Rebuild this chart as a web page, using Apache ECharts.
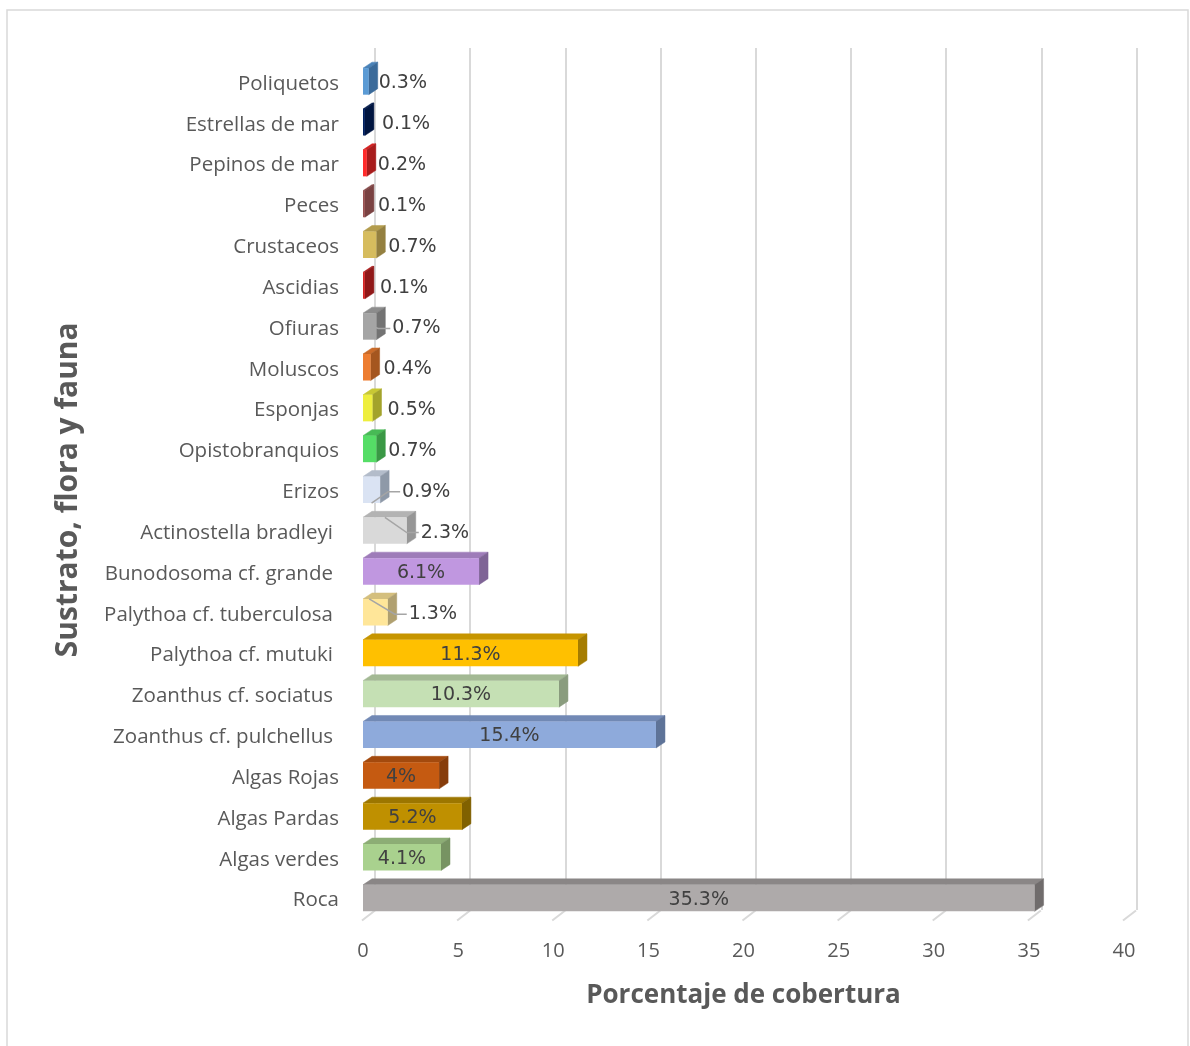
<!DOCTYPE html>
<html><head><meta charset="utf-8">
<script src="https://cdn.jsdelivr.net/npm/echarts@6/dist/echarts.min.js"></script>
<style>html,body{margin:0;padding:0;background:#fff}#c{width:1190px;height:1046px}</style>
</head><body><div id="c"></div>
<script>
// ---- data ----
const categories = ['Poliquetos','Estrellas de mar','Pepinos de mar','Peces','Crustaceos','Ascidias','Ofiuras','Moluscos','Esponjas','Opistobranquios','Erizos','Actinostella bradleyi','Bunodosoma cf. grande','Palythoa cf. tuberculosa','Palythoa cf. mutuki','Zoanthus cf. sociatus','Zoanthus cf. pulchellus','Algas Rojas','Algas Pardas','Algas verdes','Roca'];
const values = [0.3,0.1,0.2,0.1,0.7,0.1,0.7,0.4,0.5,0.7,0.9,2.3,6.1,1.3,11.3,10.3,15.4,4,5.2,4.1,35.3];
const xTicks = [0,5,10,15,20,25,30,35,40];
const xTitle = 'Porcentaje de cobertura';
const yTitle = 'Sustrato, flora y fauna';

// ---- styles ----
const frontColors = ['#5B9BD5','#002060','#FF2B2B','#9A5252','#D6BC5E','#D42525','#A5A5A5','#ED7D31','#EEEE3E','#55DD66','#DAE3F3','#D9D9D9','#C097E0','#FFE699','#FFC000','#C5E0B4','#8EAADB','#C55A11','#BF9000','#A9D18E','#AEAAAA'];
const topColors   = ['#4A82B8','#001A4D','#D42222','#844646','#B39C4D','#B01E1E','#8C8C8C','#C96A29','#C8C834','#47BA55','#B3BCCA','#B3B3B3','#9E7CB9','#D4BF7E','#C69500','#A3B994','#7289B5','#A34A0E','#9C7600','#8CAD75','#8A8686'];
const sideColors  = ['#3A6A9A','#001540','#A81C1C','#7A4242','#948040','#901818','#737373','#A5561F','#A3A32B','#3A9845','#8E99A8','#969696','#7F6496','#B0A070','#A57C00','#8A9C7E','#5E7398','#873D0B','#806100','#779362','#706C6C'];
const depthX = 9, depthY = -6;
const longLabelShift = {'Actinostella bradleyi':1,'Bunodosoma cf. grande':1,'Palythoa cf. tuberculosa':1,'Palythoa cf. mutuki':1,'Zoanthus cf. sociatus':1,'Zoanthus cf. pulchellus':1};
// per-category outside label gap and leader lines (style)
const labelGap = {'Estrellas de mar':8,'Ascidias':6,'Ofiuras':7,'Moluscos':4,'Esponjas':6,'Erizos':13,'Palythoa cf. tuberculosa':12,'Actinostella bradleyi':5,'Peces':4,'Pepinos de mar':2,'Crustaceos':3,'Opistobranquios':3,'Poliquetos':1};
const leaders = {
  'Ofiuras': {ax:0.7, ay:0.0},
  'Erizos': {ax:0.5, ay:0.5},
  'Actinostella bradleyi': {ax:0.5, ay:-0.5},
  'Palythoa cf. tuberculosa': {ax:0.25, ay:-0.5}
};
const textColor = '#404040';
const axisColor = '#595959';
const gridColor = '#D9D9D9';
const labelFont = 'DejaVu Sans';

const barData = values.map((v, i) => [v, i]);

const chart = echarts.init(document.getElementById('c'), null, {renderer:'canvas'});
const option = {
  backgroundColor:'#fff',
  animation:false,
  graphic:[{type:'rect', shape:{x:7, y:10, width:1181, height:1100}, style:{fill:'none', stroke:gridColor, lineWidth:1.5}, z:-10}],
  grid:[
    {left:363, right:66, top:61, bottom:127.5},
    {left:375, right:53.5, top:48, bottom:136}
  ],
  xAxis:[
    {gridIndex:0, type:'value', min:0, max:40, interval:5,
     axisLine:{show:false}, axisTick:{show:false}, splitLine:{show:false},
     axisLabel:{color:axisColor, fontSize:20, fontFamily:'Open Sans', margin:23},
     name:xTitle, nameLocation:'middle', nameGap:64,
     nameTextStyle:{color:axisColor, fontSize:26, fontWeight:'bold', fontFamily:'Open Sans'}},
    {gridIndex:1, type:'value', min:0, max:40, interval:5,
     axisLine:{show:false}, axisTick:{show:false}, axisLabel:{show:false},
     splitLine:{show:true, lineStyle:{color:gridColor, width:2}}}
  ],
  yAxis:[
    {gridIndex:0, type:'category', data:categories, inverse:true,
     axisLine:{show:false}, axisTick:{show:false}, splitLine:{show:false},
     axisLabel:{color:axisColor, fontSize:20.5, fontFamily:'Open Sans', margin:24,
       formatter:(n) => longLabelShift[n] ? '{l|' + n + '}' : '{s|' + n + '}',
       rich:{
         s:{color:axisColor, fontSize:20.5, fontFamily:'Open Sans', padding:[5,0,0,0]},
         l:{color:axisColor, fontSize:20.5, fontFamily:'Open Sans', padding:[5,6,0,0]}
       }},
     name:yTitle, nameLocation:'middle', nameGap:280, nameRotate:90,
     nameTextStyle:{color:axisColor, fontSize:30, fontWeight:'bold', fontFamily:'Open Sans'}},
    {gridIndex:1, type:'value', show:false}
  ],
  series:[
    {
      type:'custom', xAxisIndex:0, yAxisIndex:0, z:1,
      data:xTicks.map(t => [t, categories.length - 1]),
      encode:{x:0, y:1},
      renderItem(params, api){
        const p = api.coord([api.value(0), api.value(1)]);
        const band = api.size([0,1])[1];
        const yF = p[1] + band/2 + 2;
        return {type:'line', shape:{x1:p[0]-1, y1:yF, x2:p[0]+12, y2:yF-10},
                style:{stroke:gridColor, lineWidth:2}};
      }
    },
    {
      type:'custom', xAxisIndex:0, yAxisIndex:0, z:5,
      data:barData,
      encode:{x:0, y:1},
      renderItem(params, api){
        const i = api.value(1), v = api.value(0);
        const name = categories[i];
        const p0 = api.coord([0, i]), p1 = api.coord([v, i]);
        const band = api.size([0,1])[1];
        const h = band * 0.65;
        const x0 = p0[0], x1 = p1[0];
        const y0 = p0[1] - h/2, y1 = p0[1] + h/2;
        const children = [
          {type:'polygon', shape:{points:[[x0,y0],[x1,y0],[x1+depthX,y0+depthY],[x0+depthX,y0+depthY]]}, style:{fill:topColors[i], stroke:topColors[i], lineWidth:0.5}},
          {type:'polygon', shape:{points:[[x1,y0],[x1,y1],[x1+depthX,y1+depthY],[x1+depthX,y0+depthY]]}, style:{fill:sideColors[i], stroke:sideColors[i], lineWidth:0.5}},
          {type:'rect', shape:{x:x0, y:y0, width:Math.max(x1-x0,0.5), height:h}, style:{fill:frontColors[i]}}
        ];
        const txt = v + '%';
        if (v >= 4) {
          children.push({type:'text', x:(x0+x1)/2, y:p0[1]+1.5,
            style:{text:txt, fill:textColor, fontSize:19, fontFamily:labelFont, align:'center', verticalAlign:'middle'}});
        } else {
          const gap = labelGap[name] != null ? labelGap[name] : 4;
          const lx = x1 + depthX + gap;
          const ly = p0[1] + 2;
          children.push({type:'text', x:lx, y:ly,
            style:{text:txt, fill:textColor, fontSize:19, fontFamily:labelFont, align:'left', verticalAlign:'middle'}});
          const ld = leaders[name];
          if (ld) {
            const ax = x0 + (x1 - x0) * ld.ax;
            const ay = p0[1] + h * ld.ay;
            const knee = lx - 14;
            children.push({type:'polyline', shape:{points:[[ax, ay],[knee, ly],[lx-2, ly]]},
              style:{stroke:'#A5A5A5', lineWidth:1.5, fill:'none'}});
          }
        }
        return {type:'group', children};
      }
    }
  ]
};
chart.setOption(option);
</script></body></html>
